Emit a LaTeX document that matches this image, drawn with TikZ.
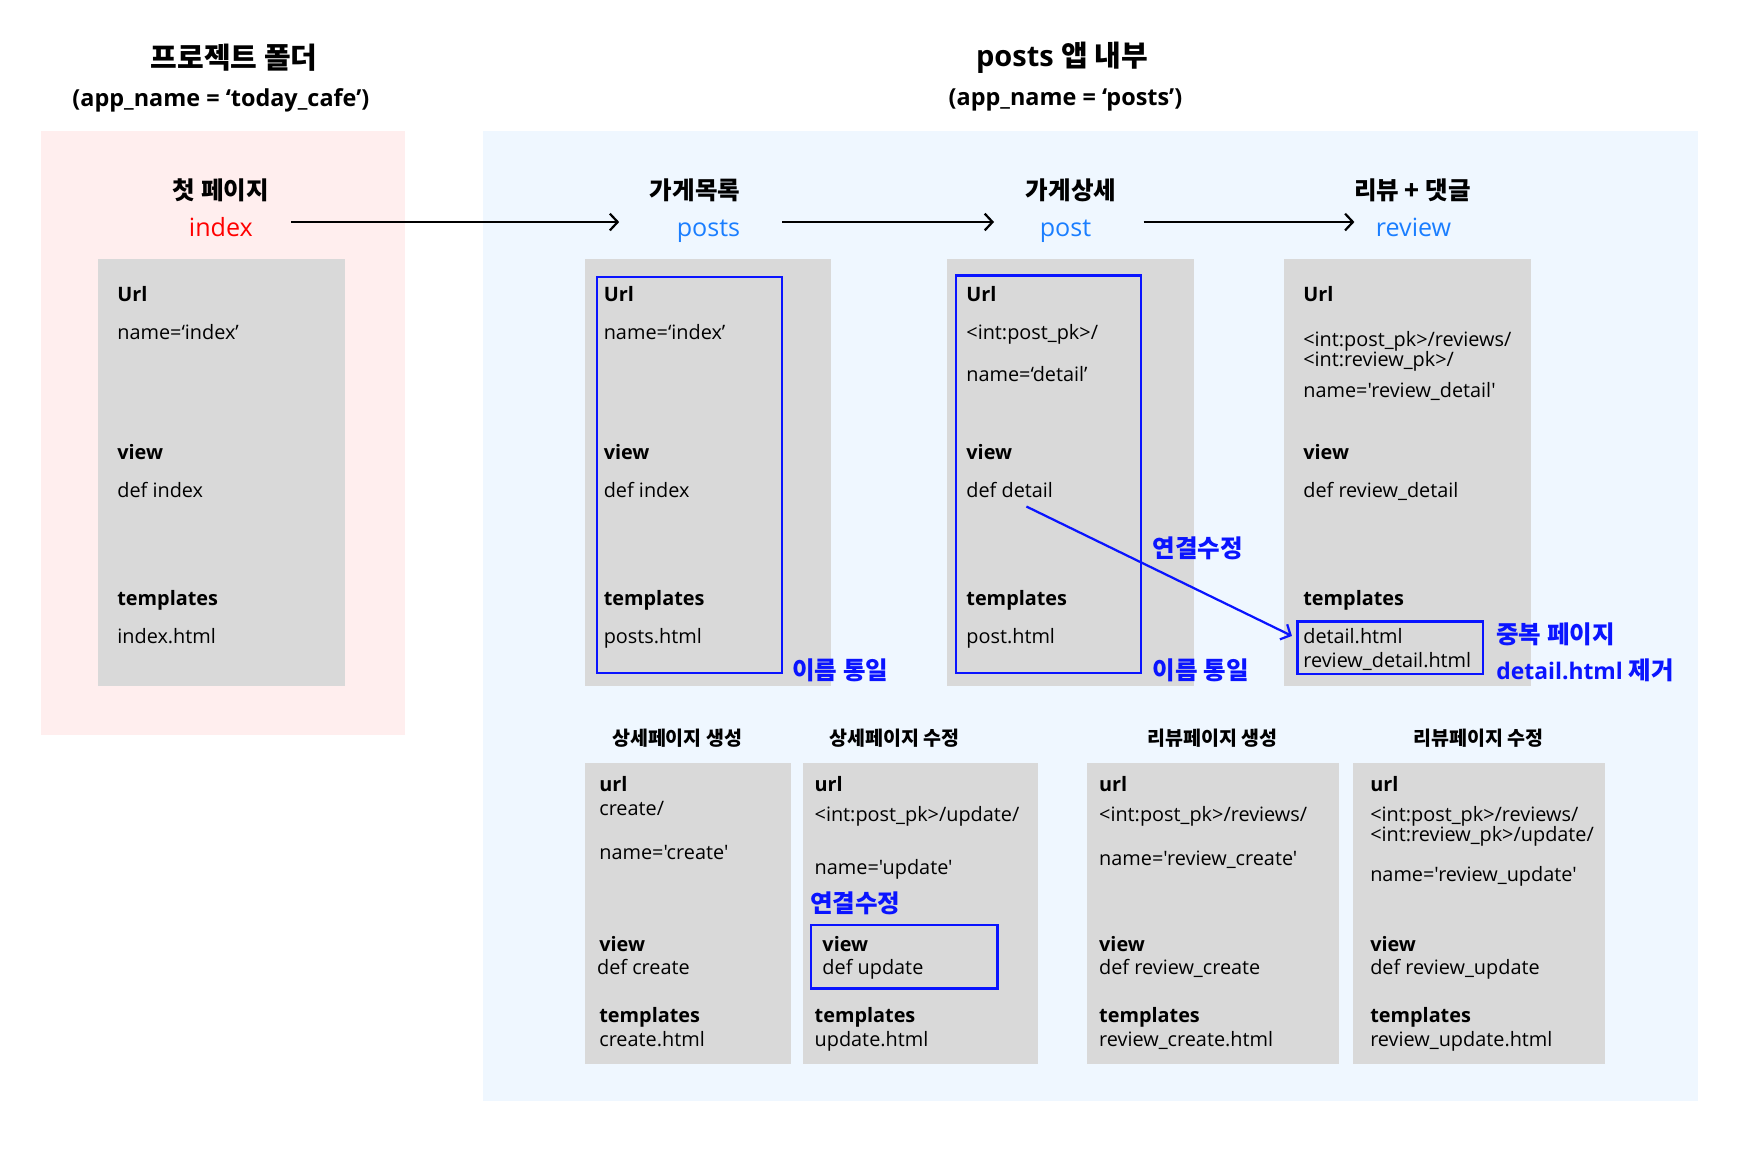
\documentclass[tikz,border=0pt]{standalone}
\usepackage{fontspec}
\setmainfont{Open Sans}[Ligatures=TeXOff]
\newfontfamily\kr{Noto Sans CJK KR}
\usetikzlibrary{arrows.meta}
\definecolor{pinkbg}{HTML}{FFEEEE}
\definecolor{bluebg}{HTML}{EFF7FF}
\definecolor{boxgray}{HTML}{D9D9D9}
\definecolor{hlblue}{HTML}{0A14FF}
\definecolor{lblue}{HTML}{1A7EFF}
\definecolor{hlred}{HTML}{FF0000}
\begin{document}
\begin{tikzpicture}[x=1pt,y=-1pt,
  txt/.style={anchor=mid west,inner sep=0pt,yshift=-4pt,font=\fontsize{17.8}{20}\selectfont},
  lbl/.style={anchor=mid west,inner sep=0pt,yshift=-4pt,font=\fontsize{17.8}{20}\selectfont\bfseries},
  title/.style={anchor=center,inner sep=0pt,font=\fontsize{26}{30}\selectfont\bfseries},
  sub/.style={anchor=center,inner sep=0pt,font=\fontsize{21}{24}\selectfont\bfseries},
  hdr/.style={anchor=center,inner sep=0pt,font=\kr\fontsize{22}{26}\selectfont\bfseries},
  app/.style={anchor=base,inner sep=0pt,font=\fontsize{22.5}{26}\selectfont},
  shdr/.style={anchor=center,inner sep=0pt,font=\kr\fontsize{17.5}{20}\selectfont\bfseries},
  note/.style={anchor=mid west,inner sep=0pt,yshift=-5pt,text=hlblue,font=\kr\fontsize{22}{26}\selectfont\bfseries},
  notelat/.style={anchor=mid west,inner sep=0pt,yshift=-5pt,text=hlblue,font=\fontsize{20.5}{26}\selectfont\bfseries},
  gbox/.style={fill=boxgray,draw=none},
  hl/.style={draw=hlblue,line width=2pt},
  flow/.style={draw=black,line width=2pt,-{Straight Barb[length=7pt,width=15pt,line width=2pt]}},
  bflow/.style={draw=hlblue,line width=2pt,-{Straight Barb[length=7pt,width=15pt,line width=2pt]}}
]
\useasboundingbox (0,0) rectangle (1565,1036);
\fill[white] (0,0) rectangle (1565,1036);
% backgrounds
\fill[pinkbg] (37,117) rectangle (363,659);
\fill[bluebg] (433,117) rectangle (1522,987);
% titles
\node[title] (t1) at (210,52) {\kr 프로젝트 폴더};
\node[sub] (s1) at (198,90) {(app\_name = ‘today\_cafe’)};
\node[title] (t2) at (952,52) {posts {\kr 앱 내부}};
\node[sub] (s2) at (955,90) {(app\_name = ‘posts’)};
% headers
\node[hdr] (h1) at (198,171) {첫 페이지};
\node[app,text=hlred] (n1) at (198,212) {index};
\node[hdr] (h2) at (623,171) {가게목록};
\node[app,text=lblue] (n2) at (635,212) {posts};
\node[hdr] (h3) at (960,171) {가게상세};
\node[app,text=lblue] (n3) at (955,212) {post};
\node[hdr] (h4) at (1266,171) {리뷰 + 댓글};
\node[app,text=lblue] (n4) at (1267,212) {review};
\coordinate (a1s) at (261,199); \coordinate (a1e) at (555,199);
\coordinate (a2s) at (701,199); \coordinate (a2e) at (891,199);
\coordinate (a3s) at (1025,199); \coordinate (a3e) at (1214,199);
\draw[flow] (a1s) -- (a1e);
\draw[flow] (a2s) -- (a2e);
\draw[flow] (a3s) -- (a3e);
% top boxes
\fill[gbox] (88,232) rectangle (309,615);
\fill[gbox] (524,232) rectangle (745,615);
\fill[gbox] (849,232) rectangle (1070,615);
\fill[gbox] (1151,232) rectangle (1372,615);
% box A
\node[lbl] (aU) at (105,264) {Url};
\node[txt] (aN) at (105,298) {name=‘index’};
\node[lbl] (aV) at (105,405) {view};
\node[txt] (aD) at (105,439) {def index};
\node[lbl] (aT) at (105,536) {templates};
\node[txt] (aH) at (105,570) {index.html};
% box B
\node[lbl] (bU) at (541,264) {Url};
\node[txt] (bN) at (541,298) {name=‘index’};
\node[lbl] (bV) at (541,405) {view};
\node[txt] (bD) at (541,439) {def index};
\node[lbl] (bT) at (541,536) {templates};
\node[txt] (bH) at (541,570) {posts.html};
\draw[hl] (535,248) rectangle (701,603);
\node[note] (bL) at (710,601) {이름 통일};
% box C
\node[lbl] (cU) at (866,264) {Url};
\node[txt] (cP) at (866,298) {<int:post\_pk>/};
\node[txt] (cN) at (866,335) {name=‘detail’};
\node[lbl] (cV) at (866,405) {view};
\node[txt] (cD) at (866,439) {def detail};
\node[lbl] (cT) at (866,536) {templates};
\node[txt] (cH) at (866,570) {post.html};
\draw[hl] (857,247) rectangle (1023,603);
\node[note] (cL) at (1033,601) {이름 통일};
\node[note] (cM) at (1033,492) {연결수정};
% box D
\node[lbl] (dU) at (1168,264) {Url};
\node[txt] (dP1) at (1168,304) {<int:post\_pk>/reviews/};
\node[txt] (dP2) at (1168,322) {<int:review\_pk>/};
\node[txt] (dN) at (1168,350) {name='review\_detail'};
\node[lbl] (dV) at (1168,405) {view};
\node[txt] (dD) at (1168,439) {def review\_detail};
\node[lbl] (dT) at (1168,536) {templates};
\node[txt] (dH1) at (1168,570) {detail.html};
\node[txt] (dH2) at (1168,592) {review\_detail.html};
\draw[hl] (1163,557) rectangle (1329,604);
\node[note] (dL1) at (1341,569) {중복 페이지};
\node[notelat] (dL2) at (1341,601) {detail.html {\kr\fontsize{22}{26}\selectfont 제거}};
\coordinate (bs) at (920,454); \coordinate (be) at (1158,570);
\draw[bflow] (bs) -- (be);
% bottom headers
\node[shdr] (eh) at (607,662) {상세페이지 생성};
\node[shdr] (fh) at (802,662) {상세페이지 수정};
\node[shdr] (gh) at (1087,662) {리뷰페이지 생성};
\node[shdr] (hh) at (1325,662) {리뷰페이지 수정};
% bottom boxes
\fill[gbox] (524,684) rectangle (709,954);
\fill[gbox] (720,684) rectangle (930,954);
\fill[gbox] (974,684) rectangle (1200,954);
\fill[gbox] (1213,684) rectangle (1439,954);
% E
\node[lbl] (eU) at (537,703) {url};
\node[txt] (eP) at (537,724) {create/};
\node[txt] (eN) at (537,764) {name='create'};
\node[lbl] (eV) at (537,846) {view};
\node[txt] (eD) at (535,867) {def create};
\node[lbl] (eT) at (537,910) {templates};
\node[txt] (eH) at (537,931) {create.html};
% F
\node[lbl] (fU) at (730,703) {url};
\node[txt] (fP) at (730,730) {<int:post\_pk>/update/};
\node[txt] (fN) at (730,777) {name='update'};
\node[note] (fM) at (726,810) {연결수정};
\draw[hl] (727,829) rectangle (894,886);
\node[lbl] (fV) at (737,846) {view};
\node[txt] (fD) at (737,867) {def update};
\node[lbl] (fT) at (730,910) {templates};
\node[txt] (fH) at (730,931) {update.html};
% G
\node[lbl] (gU) at (985,703) {url};
\node[txt] (gP) at (985,730) {<int:post\_pk>/reviews/};
\node[txt] (gN) at (985,769) {name='review\_create'};
\node[lbl] (gV) at (985,846) {view};
\node[txt] (gD) at (985,867) {def review\_create};
\node[lbl] (gT) at (985,910) {templates};
\node[txt] (gH) at (985,931) {review\_create.html};
% H
\node[lbl] (hU) at (1228,703) {url};
\node[txt] (hP1) at (1228,730) {<int:post\_pk>/reviews/};
\node[txt] (hP2) at (1228,748) {<int:review\_pk>/update/};
\node[txt] (hN) at (1228,783) {name='review\_update'};
\node[lbl] (hV) at (1228,846) {view};
\node[txt] (hD) at (1228,867) {def review\_update};
\node[lbl] (hT) at (1228,910) {templates};
\node[txt] (hH) at (1228,931) {review\_update.html};
\end{tikzpicture}
\end{document}
